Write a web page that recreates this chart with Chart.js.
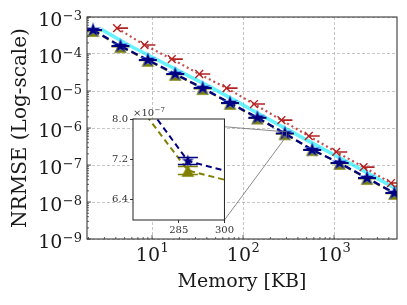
<!DOCTYPE html>
<html><head><meta charset="utf-8">
<script src="https://cdn.jsdelivr.net/npm/chart.js@4.4.0/dist/chart.umd.min.js"></script>
<style>
html,body{margin:0;padding:0;background:#fff;}
#wrap{position:relative;width:407px;height:305px;overflow:hidden;}
#main{position:absolute;left:0;top:0;}
#inset{position:absolute;left:95px;top:105px;}
</style></head><body>
<div id="wrap"><canvas id="main" width="407" height="305"></canvas><canvas id="inset" width="140" height="135"></canvas></div>
<script>
// ---- data ----
const memoryKB      = [2.25, 4.5, 9, 18, 36, 72, 144, 288, 576, 1152, 2304, 4608];
const navyNRMSE     = [4.45e-4, 1.64e-4, 6.9e-5, 2.88e-5, 1.2e-5, 4.74e-6, 1.9e-6, 7.17e-7, 2.55e-7, 1.13e-7, 4.45e-8, 1.75e-8];
const navyErr       = [4e-6, 1.6e-6, 7e-7, 3e-7, 1.2e-7, 5e-8, 1.8e-8, 7e-9, 3e-9, 1.1e-9, 4.5e-10, 1.8e-10];
const oliveNRMSE    = [4.3e-4, 1.58e-4, 6.7e-5, 2.8e-5, 1.16e-5, 4.6e-6, 1.85e-6, 6.98e-7, 2.6e-7, 1.1e-7, 4.3e-8, 1.7e-8];
const oliveErr      = [4.5e-6, 1.8e-6, 7.5e-7, 3.2e-7, 1.3e-7, 5.2e-8, 2e-8, 8e-9, 3e-9, 1.2e-9, 4.8e-10, 1.9e-10];
const redMemoryKB   = [4.13, 8.25, 16.5, 33, 66, 132, 264, 528, 1056, 2112, 4224, 8448];
const redNRMSE      = [5.0e-4, 1.75e-4, 7.3e-5, 2.88e-5, 1.2e-5, 4.45e-6, 1.64e-6, 6.08e-7, 2.25e-7, 8.8e-8, 3.26e-8, 1.2e-8];
const redErr        = [3e-6, 1e-6, 4e-7, 1.6e-7, 7e-8, 2.5e-8, 1e-8, 3.5e-9, 1.3e-9, 5e-10, 2e-10, 7e-11];
const cyanMemoryKB  = [2.75, 5.5, 11, 22, 44, 88, 176, 352, 704, 1408, 2816, 5632];
const cyanNRMSE     = [4.7e-4, 1.75e-4, 7.3e-5, 3.05e-5, 1.27e-5, 5.0e-6, 1.92e-6, 7.6e-7, 3.0e-7, 1.2e-7, 4.7e-8, 1.85e-8];
const yDecadeTicks  = [1e-9, 1e-8, 1e-7, 1e-6, 1e-5, 1e-4, 1e-3];
const xDecadeTicks  = [10, 100, 1000];
const insetXTicks   = [285, 300];
const insetYTicks   = [6.4e-7, 7.2e-7, 8.0e-7];

const pts = (xs, ys) => xs.map((x, i) => ({x, y: ys[i]}));
const FONT = '"DejaVu Serif", "Liberation Serif", serif';
const TXT = '#1a1a1a';

function makeStar(R, fill, halo){
  const s = Math.ceil(2*R + 6), c = document.createElement('canvas'); c.width = c.height = s;
  const g = c.getContext('2d');
  const draw = (rr, col) => { g.beginPath();
    for (let i = 0; i < 10; i++){ const r = i%2 ? rr*0.382 : rr; const a = -Math.PI/2 + i*Math.PI/5;
      g.lineTo(s/2 + r*Math.cos(a), s/2 + r*Math.sin(a)); }
    g.closePath(); g.fillStyle = col; g.fill(); };
  if (halo) draw(R + 1.8, halo);
  draw(R, fill); return c;
}
function makeTri(r, fill){
  const s = Math.ceil(2*r + 2), c = document.createElement('canvas'); c.width = c.height = s;
  const g = c.getContext('2d'); g.beginPath();
  g.moveTo(s/2, s/2 - r); g.lineTo(s/2 + r, s/2 + r); g.lineTo(s/2 - r, s/2 + r); g.closePath();
  g.fillStyle = fill; g.fill(); return c;
}
const starMain = makeStar(6.8, '#000080', 'rgba(65,105,235,0.75)');
const starInset = makeStar(6.5, '#000080', null);
const triImg = makeTri(6.3, '#808000');

const errorCaps = {
  id: 'errorCaps',
  afterDatasetDraw(chart, args){
    const ds = chart.data.datasets[args.index];
    if (!ds.errors) return;
    const {ctx, chartArea: a, scales: {x, y}} = chart;
    ctx.save(); ctx.beginPath(); ctx.rect(a.left, a.top, a.right - a.left, a.bottom - a.top); ctx.clip();
    ctx.strokeStyle = ds.capColor; ctx.lineWidth = ds.capWidth || 1.5;
    ds.data.forEach((p, i) => {
      const e = ds.errors[i];
      const px = x.getPixelForValue(p.x) + (ds.capShift || 0);
      const y1 = y.getPixelForValue(p.y + e), y2 = y.getPixelForValue(p.y - e);
      const h = ds.capHalf || 9;
      ctx.beginPath();
      ctx.moveTo(px - h, y1); ctx.lineTo(px + h, y1);
      ctx.moveTo(px - h, y2); ctx.lineTo(px + h, y2);
      ctx.moveTo(px, y1); ctx.lineTo(px, y2);
      ctx.stroke();
    });
    ctx.restore();
  }
};

// ---------------- inset chart ----------------
const insetFrame = {
  id: 'insetFrame',
  beforeDraw(chart){
    const {ctx, chartArea: a} = chart;
    ctx.save(); ctx.fillStyle = '#fff'; ctx.fillRect(a.left, a.top, a.right - a.left, a.bottom - a.top); ctx.restore();
  },
  afterDraw(chart){
    const {ctx, chartArea: a} = chart;
    ctx.save(); ctx.strokeStyle = '#222'; ctx.lineWidth = 1;
    ctx.strokeRect(a.left, a.top, a.right - a.left, a.bottom - a.top);
    ctx.fillStyle = '#333'; ctx.textBaseline = 'alphabetic';
    ctx.font = '10px ' + FONT; const w = ctx.measureText('×10').width;
    ctx.fillText('×10', a.left, a.top - 3);
    ctx.font = '7px ' + FONT; ctx.fillText('−7', a.left + w + 0.5, a.top - 7);
    ctx.restore();
  }
};
const insetChart = new Chart(document.getElementById('inset'), {
  type: 'line',
  data: { datasets: [
    { data: pts(memoryKB, navyNRMSE), borderColor: '#000080', borderWidth: 2, borderDash: [6, 4],
      pointStyle: starInset, pointRadius: 6, errors: navyErr, capColor: '#000080', capHalf: 10, capWidth: 1.5, order: 1 },
    { data: pts(memoryKB, oliveNRMSE), borderColor: '#808000', borderWidth: 2, borderDash: [6, 4],
      pointStyle: triImg, pointRadius: 6, errors: oliveErr, capColor: '#808000', capHalf: 10, capWidth: 1.5, order: 2 }
  ]},
  options: {
    responsive: false, animation: false, events: [],
    layout: { padding: { top: 14, right: 9, left: 0, bottom: 0 } },
    plugins: { legend: { display: false }, tooltip: { enabled: false } },
    scales: {
      x: { type: 'linear', min: 270, max: 300,
        afterBuildTicks: s => { s.ticks = insetXTicks.map(v => ({value: v})); },
        afterFit: s => { s.height = 20; },
        grid: { drawOnChartArea: false, drawTicks: true, tickLength: 3, color: '#333' },
        border: { display: false },
        ticks: { autoSkip: false, maxRotation: 0, padding: 1, color: '#333', font: { family: FONT, size: 10 } } },
      y: { type: 'linear', min: 6.0e-7, max: 8.0e-7,
        afterBuildTicks: s => { s.ticks = insetYTicks.map(v => ({value: v})); },
        afterFit: s => { s.width = 38; },
        grid: { drawOnChartArea: false, drawTicks: true, tickLength: 3, color: '#333' },
        border: { display: false },
        ticks: { autoSkip: false, padding: 2, color: '#333', font: { family: FONT, size: 10 },
          callback: v => (v / 1e-7).toFixed(1) } }
    }
  },
  plugins: [insetFrame, errorCaps]
});

// ---------------- main chart ----------------
const isDecade = v => Math.abs(Math.log10(v) - Math.round(Math.log10(v))) < 1e-6;
function supLabel(v){ const n = Math.round(Math.log10(v)); return ['10', String(n).replace('-', '−')]; }

const mainDecor = {
  id: 'mainDecor',
  afterDraw(chart){
    const {ctx, chartArea: a, scales: {x, y}} = chart;
    ctx.save();
    ctx.strokeStyle = '#262626'; ctx.lineWidth = 1;
    ctx.strokeRect(a.left, a.top, a.right - a.left, a.bottom - a.top);
    ctx.lineWidth = 0.8; ctx.strokeStyle = '#333';
    for (let n = -10; n <= 4; n++) for (let k = 1; k <= 9; k++){
      const v = k * Math.pow(10, n);
      const len = k === 1 ? 4 : 2;
      if (v >= y.min && v <= y.max){ const py = y.getPixelForValue(v);
        ctx.beginPath(); ctx.moveTo(a.left, py); ctx.lineTo(a.left + len, py); ctx.stroke(); }
      if (v >= x.min && v <= x.max){ const px = x.getPixelForValue(v);
        ctx.beginPath(); ctx.moveTo(px, a.bottom); ctx.lineTo(px, a.bottom - len); ctx.stroke(); }
    }
    ctx.fillStyle = TXT; ctx.textBaseline = 'alphabetic';
    yDecadeTicks.forEach(v => {
      const [b, e] = supLabel(v); const py = y.getPixelForValue(v);
      ctx.font = '13px ' + FONT; const we = ctx.measureText(e).width;
      ctx.textAlign = 'left'; ctx.fillText(e, 82 - we, py + 3);
      ctx.font = '19px ' + FONT; ctx.textAlign = 'right'; ctx.fillText(b, 82 - we - 0.5, py + 9);
    });
    xDecadeTicks.forEach(v => {
      const [b, e] = supLabel(v); const px = x.getPixelForValue(v);
      ctx.font = '19px ' + FONT; const wb = ctx.measureText(b).width;
      ctx.font = '13px ' + FONT; const we = ctx.measureText(e).width;
      const st = px - (wb + we) / 2;
      ctx.textAlign = 'left';
      ctx.font = '19px ' + FONT; ctx.fillText(b, st, 261);
      ctx.font = '13px ' + FONT; ctx.fillText(e, st + wb + 0.5, 252);
    });
    ctx.font = '19px ' + FONT; ctx.textAlign = 'center';
    ctx.fillText('Memory [KB]', (a.left + a.right) / 2, 287);
    ctx.translate(21, (a.top + a.bottom) / 2); ctx.rotate(-Math.PI / 2);
    ctx.font = '20px ' + FONT;
    ctx.textBaseline = 'middle'; ctx.fillText('NRMSE (Log-scale)', 0, 0);
    ctx.restore();
    const ia = insetChart.chartArea, ox = 95, oy = 105;
    const ix = insetChart.scales.x, iy = insetChart.scales.y;
    const rx1 = x.getPixelForValue(ix.min), rx2 = x.getPixelForValue(ix.max);
    const ry1 = y.getPixelForValue(iy.max), ry2 = y.getPixelForValue(iy.min);
    ctx.save(); ctx.strokeStyle = 'rgba(110,110,110,0.9)'; ctx.lineWidth = 0.9;
    ctx.strokeRect(rx1, ry1, rx2 - rx1, ry2 - ry1);
    ctx.beginPath();
    ctx.moveTo(ox + ia.left, oy + ia.top); ctx.lineTo(rx1, ry1);
    ctx.moveTo(ox + ia.right, oy + ia.bottom); ctx.lineTo(rx2, ry2);
    ctx.stroke(); ctx.restore();
  }
};

new Chart(document.getElementById('main'), {
  type: 'line',
  data: { datasets: [
    { data: pts(redMemoryKB, redNRMSE), borderColor: 'rgba(185,45,45,0.85)', borderWidth: 2.2, borderDash: [2, 3],
      pointStyle: 'crossRot', pointRadius: 5.5, pointBorderWidth: 1.4, pointBorderColor: '#b22222', pointBackgroundColor: '#b22222',
      errors: redErr, capColor: '#b22222', capHalf: 6, capShift: 5, capWidth: 1.5, order: 0 },
    { data: pts(memoryKB, navyNRMSE), borderColor: '#000080', borderWidth: 2.3, borderDash: [7, 4],
      pointStyle: starMain, pointRadius: 7, errors: navyErr, capColor: '#000080', capHalf: 9, capWidth: 1.6, order: 1 },
    { data: pts(cyanMemoryKB, cyanNRMSE), borderColor: 'rgba(0,235,255,0.6)', borderWidth: 3.5,
      pointRadius: 0, order: 2 },
    { data: pts(memoryKB, oliveNRMSE), borderColor: '#808000', borderWidth: 2, borderDash: [7, 4],
      pointStyle: triImg, pointRadius: 6, errors: oliveErr, capColor: '#808000', capHalf: 9, capWidth: 1.4, order: 3 }
  ]},
  options: {
    responsive: false, animation: false, events: [],
    layout: { padding: { top: 17, right: 10, left: 0, bottom: 0 } },
    plugins: { legend: { display: false }, tooltip: { enabled: false } },
    scales: {
      x: { type: 'logarithmic', min: 1.93, max: 4920,
        afterFit: s => { s.height = 66; },
        grid: { drawTicks: false, lineWidth: 0.8, color: c => (c.tick && isDecade(c.tick.value)) ? '#b8b8b8' : 'rgba(0,0,0,0)' },
        border: { display: false, dash: [3, 2] },
        ticks: { display: false, autoSkip: false } },
      y: { type: 'logarithmic', min: 1e-9, max: 1e-3,
        afterFit: s => { s.width = 87; },
        grid: { drawTicks: false, lineWidth: 0.8, color: c => (c.tick && isDecade(c.tick.value)) ? '#b8b8b8' : 'rgba(0,0,0,0)' },
        border: { display: false, dash: [3, 2] },
        ticks: { display: false, autoSkip: false } }
    }
  },
  plugins: [errorCaps, mainDecor]
});
</script>
</body></html>
